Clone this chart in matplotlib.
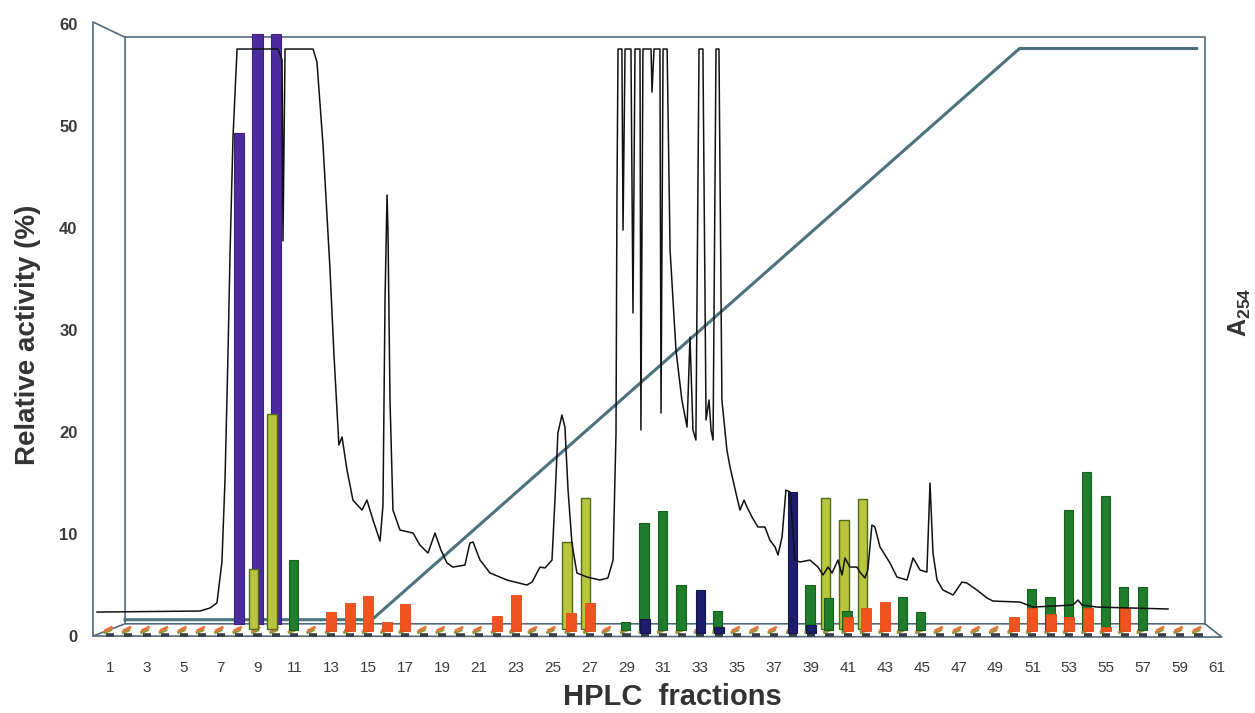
"""HPLC fractions: relative activity bars over the A254 trace and the gradient."""
import matplotlib.pyplot as plt
from matplotlib.patches import Polygon
from matplotlib.collections import LineCollection

plt.rcParams['font.family'] = ['Liberation Sans', 'DejaVu Sans']
plt.rcParams['mathtext.fontset'] = 'custom'
plt.rcParams['mathtext.rm'] = 'Liberation Sans:bold'
plt.rcParams['mathtext.bf'] = 'Liberation Sans:bold'

# bar tops (relative activity, %) per activity type
purple_frac = [8, 9, 10]
purple_val = [49.3, 59.0, 59.0]

yellow_frac = [9, 10, 26, 27, 40, 41, 42]
yellow_val = [6.6, 21.8, 9.2, 13.5, 13.5, 11.4, 13.4]

green_frac = [11, 29, 30, 31, 32, 34, 39, 40, 41, 44, 45, 51, 52, 53, 54, 55, 56, 57]
green_val = [7.5, 1.4, 11.1, 12.3, 5.0, 2.5, 5.0, 3.7, 2.5, 3.8, 2.4,
             4.6, 3.8, 12.4, 16.1, 13.7, 4.8, 4.8]

navy_frac = [30, 33, 34, 38, 39]
navy_val = [1.7, 4.5, 0.9, 14.1, 1.1]

orange_frac = [13, 14, 15, 16, 17, 22, 23, 26, 27, 41, 42, 43, 50, 51, 52, 53, 54, 55, 56]
orange_val = [2.4, 3.2, 3.9, 1.4, 3.1, 2.0, 4.0, 2.3, 3.2, 1.9, 2.7, 3.3,
              1.9, 2.7, 2.2, 1.9, 2.7, 0.9, 2.7]

# A254 trace (fraction, scaled absorbance)
trace_x = [0.30, 5.88, 6.42, 6.80, 7.07, 7.24, 7.40, 7.51, 7.67, 7.89, 10.11, 10.33, 10.38,
           10.49, 12.01, 12.22, 12.55, 12.93, 13.14, 13.41, 13.58, 13.85, 14.17, 14.66,
           14.93, 15.26, 15.64, 15.80, 15.91, 16.02, 16.07, 16.18, 16.34, 16.72, 17.43,
           17.80, 18.24, 18.62, 18.94, 19.27, 19.59, 20.24, 20.51, 20.68, 21.06, 21.60,
           22.52, 23.60, 23.88, 24.31, 24.58, 24.96, 25.12, 25.28, 25.50, 25.66, 25.83,
           26.04, 26.31, 26.86, 27.56, 27.99, 28.27, 28.43, 28.48, 28.54,
           28.75, 28.81, 28.92, 29.24, 29.35, 29.46, 29.73, 29.78, 29.89, 30.33, 30.38,
           30.49, 30.81, 30.87, 30.98, 31.20, 31.36, 31.68, 32.00, 32.28, 32.44, 32.60,
           32.76, 32.93, 33.14, 33.31, 33.47, 33.58, 33.69, 33.85, 34.01, 34.17, 34.44,
           34.61, 34.98, 35.15, 35.37, 35.53, 35.80, 36.12, 36.50, 36.77, 37.05, 37.21,
           37.43, 37.64, 37.86, 38.13, 38.40, 38.94, 39.38, 39.65, 39.92, 40.14, 40.46,
           40.68, 40.84, 41.11, 41.49, 41.65, 41.92, 42.08, 42.30, 42.46, 42.74, 43.28,
           43.66, 44.20, 44.53, 44.91, 45.28, 45.45, 45.61, 45.83, 46.15, 46.70, 47.18,
           47.45, 47.99, 48.54, 48.86, 50.33, 51.03, 53.20, 53.47, 53.69, 54.50, 56.29,
           58.35]
trace_y = [2.35, 2.45, 2.75, 3.24, 7.25, 15.49, 27.75, 37.55, 48.92, 57.55, 57.55, 56.47, 38.73,
           57.55, 57.55, 56.27, 48.14, 35.88, 27.65, 18.73, 19.51, 16.27, 13.33, 12.35,
           13.33, 11.37, 9.31, 12.84, 32.94, 43.24, 39.80, 23.14, 12.35, 10.39, 10.10,
           8.92, 8.14, 10.10, 8.43, 7.16, 6.76, 6.96, 9.12, 9.22, 7.45, 6.18,
           5.49, 5.00, 5.29, 6.76, 6.67, 7.45, 13.33, 19.90, 21.67, 20.49, 14.31,
           9.12, 6.18, 5.78, 5.49, 5.69, 7.45, 19.90, 42.75, 57.55,
           57.55, 39.80, 57.55, 57.55, 31.67, 57.55, 57.55, 20.20, 57.55, 57.55, 53.33,
           57.55, 57.55, 21.86, 57.55, 57.55, 37.84, 28.04, 23.14, 20.49, 29.31, 20.20,
           19.22, 57.55, 57.55, 21.18, 23.14, 20.20, 19.22, 57.55, 57.55, 23.14, 18.24,
           16.57, 13.63, 12.35, 13.33, 12.65, 11.67, 10.69, 10.69, 9.41, 8.73, 7.94,
           9.71, 14.31, 14.12, 7.45, 7.25, 7.45, 6.76, 5.98, 6.76, 6.18, 7.45,
           5.98, 7.65, 6.76, 6.76, 6.27, 5.69, 6.47, 10.88, 10.69, 8.73, 7.16,
           5.78, 5.49, 7.65, 6.47, 6.27, 15.00, 8.14, 5.49, 4.51, 4.02, 5.29,
           5.20, 4.51, 3.73, 3.43, 3.33, 2.84, 3.04, 3.53, 3.04, 2.84, 2.75,
           2.65]

# acetonitrile gradient
grad_x = [1.82, 15.2, 50.3, 59.9]
grad_y = [1.6, 1.6, 57.6, 57.6]

fractions = list(range(1, 61))
tick_labels = list(range(1, 62, 2))

fig = plt.figure(figsize=(12.55, 7.13), dpi=100)
ax = fig.add_axes([0.0729, 0.1008, 0.9041, 0.8798])
ax.set_xlim(0, 61.5)
ax.set_ylim(-0.5, 61)
for s in ax.spines.values():
    s.set_visible(False)

frame = '#52697a'
# floor and walls of the pseudo-3D box
ax.add_patch(Polygon([(0.08, 0), (61.27, -0.1), (60.35, 1.2), (1.82, 1.2)],
                     closed=True, facecolor='white', edgecolor=frame, lw=1.2, zorder=1))
ax.plot([0.08, 0.08, 1.82, 1.82], [0, 60.2, 58.7, 1.2], color=frame, lw=1.2, zorder=1)
ax.plot([1.82, 60.35, 60.35], [58.7, 58.7, 1.2], color=frame, lw=1.2, zorder=1)

# zero-height bars on the floor
segs_top = [[(f - 0.3, 0.5), (f + 0.15, 0.9)] for f in fractions]
segs_mid = [[(f - 0.35, 0.3), (f + 0.1, 0.65)] for f in fractions]
segs_bot = [[(f - 0.22, 0.12), (f + 0.22, 0.12)] for f in fractions]
ax.add_collection(LineCollection(segs_mid, colors='#8f9a3a', lw=2.2, zorder=1.5))
ax.add_collection(LineCollection(segs_top, colors='#e9743a', lw=2.0, zorder=1.6))
ax.add_collection(LineCollection(segs_bot, colors='#3b3d45', lw=2.6, zorder=1.5))

ax.plot(grad_x, grad_y, color='#4b717f', lw=2.2, zorder=2)

w = 0.55
ax.bar(purple_frac, [v - 1.2 for v in purple_val], bottom=1.2, width=w,
       color='#4b2b9e', edgecolor='#3a2080', lw=0.8, zorder=2.5)
ax.bar([f - 0.22 for f in yellow_frac], [v - 0.7 for v in yellow_val], bottom=0.7, width=0.52,
       color='#b9c53c', edgecolor='#4f6a1c', lw=1.0, zorder=3)
ax.bar([f - 0.05 for f in green_frac], [v - 0.6 for v in green_val], bottom=0.6, width=0.5,
       color='#1f7d2c', edgecolor='#176020', lw=0.8, zorder=3.1)
ax.bar(navy_frac, [v - 0.3 for v in navy_val], bottom=0.3, width=0.52,
       color='#1b1f6c', edgecolor='#141650', lw=0.8, zorder=3.2)
ax.bar(orange_frac, [v - 0.5 for v in orange_val], bottom=0.5, width=0.55,
       color='#f0541e', edgecolor='#e04a18', lw=0.6, zorder=3.3)

ax.plot(trace_x, trace_y, color='#111111', lw=1.1, zorder=4)

ax.set_xticks(tick_labels)
ax.set_xticklabels([str(t) for t in tick_labels], fontsize=11, color='#3a3a3a')
ax.set_yticks(range(0, 61, 10))
ax.set_yticklabels([str(t) for t in range(0, 61, 10)], fontsize=12, color='#3a3a3a',
                   fontweight='bold')
ax.tick_params(axis='x', length=0, pad=14)
ax.tick_params(axis='y', length=0, pad=10)

fig.text(28 / 1255, 1 - 335 / 713, 'Relative activity (%)', rotation=90, ha='center',
         va='center', fontsize=20, fontweight='bold', color='#333333')
fig.text(672 / 1255, 1 - 697 / 713, 'HPLC  fractions', ha='center', va='center',
         fontsize=21, fontweight='bold', color='#333333')
fig.text(1240 / 1255, 1 - 312 / 713, r'$\mathbf{A_{254}}$', rotation=90, ha='center',
         va='center', fontsize=18, color='#333333')

fig.savefig('out.png', dpi=100)
